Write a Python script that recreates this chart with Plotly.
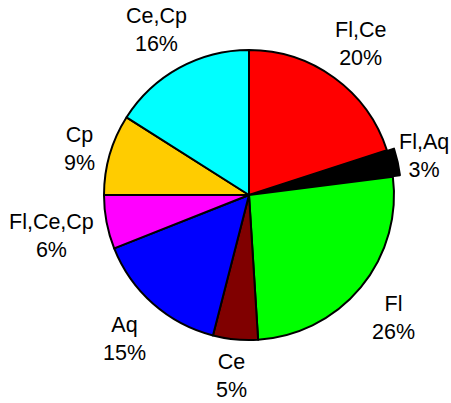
import math
import plotly.graph_objects as go

labels = ["Fl,Ce", "Fl,Aq", "Fl", "Ce", "Aq", "Fl,Ce,Cp", "Cp", "Ce,Cp"]
values = [20, 3, 26, 5, 15, 6, 9, 16]
colors = ["#FF0000", "#000000", "#00FF00", "#800000", "#0000FF", "#FF00FF", "#FFCC00", "#00FFFF"]
pulls = [0, 0.05, 0, 0, 0, 0, 0, 0]

W, H = 451, 403
FS = 21.5
FONT = "Liberation Sans, Arial, sans-serif"
# pie geometry in pixels (layout)
CX, CY, RAD = 249, 195, 145
LABEL_GAP = 10
LINE_H = 50
LABEL_DY = 3

# approximate Arial glyph widths (em units)
CW = {"F": 0.611, "l": 0.222, ",": 0.278, "C": 0.722, "e": 0.556, "A": 0.667,
      "q": 0.556, "p": 0.556, "%": 0.889}


def text_w(s):
    return sum(CW.get(c, 0.556) for c in s) * FS


half = RAD * (1 + max(pulls))
fig = go.Figure(go.Pie(
    labels=labels,
    values=values,
    sort=False,
    direction="clockwise",
    rotation=0,
    pull=pulls,
    marker=dict(colors=colors, line=dict(color="black", width=2)),
    textinfo="none",
    hoverinfo="label+percent",
    showlegend=False,
    automargin=False,
    domain=dict(x=[(CX - half) / W, (CX + half) / W],
                y=[1 - (CY + half) / H, 1 - (CY - half) / H]),
))

total = sum(values)
cum = 0
for lab, v, p in zip(labels, values, pulls):
    mid = (cum + v / 2) / total * 2 * math.pi
    cum += v
    ux, uy = math.sin(mid), -math.cos(mid)
    pct = f"{round(100 * v / total)}%"
    w = max(text_w(lab), text_w(pct))
    dist = RAD * (1 + p) + LABEL_GAP + abs(ux) * w / 2 + abs(uy) * LINE_H / 2
    x = CX + dist * ux
    y = CY + dist * uy + LABEL_DY
    x = min(max(x, w / 2 + 2), W - w / 2 - 2)
    y = min(max(y, LINE_H / 2 + 2), H - LINE_H / 2 - 2)
    fig.add_annotation(
        x=x / W, y=1 - y / H, xref="paper", yref="paper",
        text=f"{lab}<br>{pct}", showarrow=False,
        xanchor="center", yanchor="middle", align="center",
        font=dict(family=FONT, size=FS, color="black"),
    )

fig.update_layout(
    width=W, height=H,
    margin=dict(l=0, r=0, t=0, b=0),
    paper_bgcolor="white",
    plot_bgcolor="white",
)
fig.write_html("out.html", config={"displayModeBar": False},
               post_script="document.body.style.margin='0';")
